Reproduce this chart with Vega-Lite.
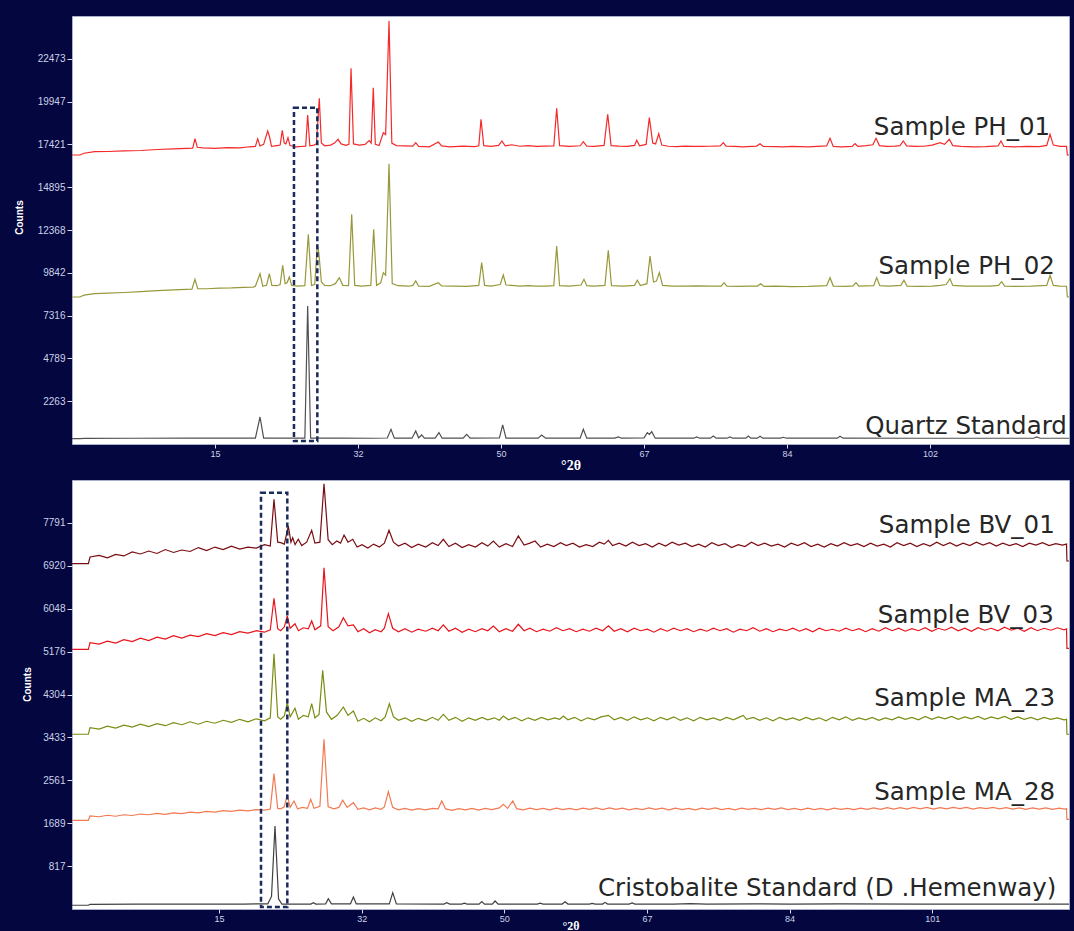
{
  "$schema": "https://vega.github.io/schema/vega-lite/v6.json",
  "background": "#03063f",
  "padding": {"left": 13, "top": 15, "right": 5, "bottom": 0},
  "bounds": "flush",
  "spacing": 36,
  "config": {
    "view": {"fill": "white", "stroke": "#aab0cc", "strokeWidth": 1},
    "axis": {"grid": false, "domain": false, "tickColor": "#d8dcf0", "tickSize": 4, "labelColor": "#cdd2e8", "labelFont": "Liberation Sans", "labelFontSize": 9, "labelPadding": 1, "titleColor": "white", "titleFont": "Liberation Sans", "titleFontWeight": "bold"},
    "text": {"font": "DejaVu Sans", "fontSize": 24.5, "color": "#262626", "align": "center", "baseline": "alphabetic"},
    "line": {"strokeWidth": 1.2, "clip": true}
  },
  "datasets": {
    "ph01": [
      {"x":-2.35,"y":16795},{"x":-1.4,"y":16795},{"x":-0.9,"y":16900},{"x":0.4,"y":16990},{"x":2,"y":17000},{"x":4,"y":17040},{"x":6,"y":17060},{"x":8,"y":17120},{"x":10,"y":17160},{"x":12.3,"y":17200},{"x":12.57,"y":17757},{"x":12.85,"y":17250},{"x":13.5,"y":17210},{"x":15,"y":17190},{"x":16.5,"y":17230},{"x":18,"y":17210},{"x":19.2,"y":17280},{"x":19.9,"y":17300},{"x":20.18,"y":17757},{"x":20.45,"y":17330},{"x":20.9,"y":17420},{"x":21.39,"y":18212},{"x":21.6,"y":17900},{"x":21.85,"y":17300},{"x":22.5,"y":17350},{"x":22.9,"y":17380},{"x":23.16,"y":18253},{"x":23.4,"y":17500},{"x":23.6,"y":17450},{"x":23.85,"y":17816},{"x":24.1,"y":17350},{"x":24.8,"y":17280},{"x":25.5,"y":17300},{"x":26.0,"y":17320},{"x":26.24,"y":19156},{"x":26.5,"y":17340},{"x":27.0,"y":17380},{"x":27.3,"y":17450},{"x":27.65,"y":20142},{"x":27.9,"y":17500},{"x":28.3,"y":17340},{"x":29.0,"y":17380},{"x":29.5,"y":17500},{"x":29.92,"y":17722},{"x":30.3,"y":17450},{"x":30.9,"y":17360},{"x":31.25,"y":17420},{"x":31.5,"y":21912},{"x":31.8,"y":17450},{"x":32.5,"y":17380},{"x":33.2,"y":17420},{"x":33.7,"y":17650},{"x":33.95,"y":17500},{"x":34.2,"y":20767},{"x":34.45,"y":17420},{"x":34.9,"y":17350},{"x":35.42,"y":18111},{"x":35.7,"y":18000},{"x":36.11,"y":24704},{"x":36.45,"y":17500},{"x":37,"y":17350},{"x":38,"y":17330},{"x":39.0,"y":17320},{"x":39.35,"y":17521},{"x":39.7,"y":17300},{"x":41,"y":17280},{"x":42.09,"y":17562},{"x":42.5,"y":17330},{"x":43.5,"y":17280},{"x":45,"y":17320},{"x":46.5,"y":17290},{"x":47.0,"y":17340},{"x":47.27,"y":18902},{"x":47.6,"y":17350},{"x":48.5,"y":17300},{"x":49.4,"y":17360},{"x":49.81,"y":17621},{"x":50.2,"y":17340},{"x":51,"y":17400},{"x":52,"y":17310},{"x":53,"y":17350},{"x":54,"y":17300},{"x":55,"y":17320},{"x":56.1,"y":17330},{"x":56.45,"y":19551},{"x":56.8,"y":17350},{"x":58,"y":17300},{"x":59.3,"y":17340},{"x":59.68,"y":17580},{"x":60.1,"y":17320},{"x":61,"y":17300},{"x":62.2,"y":17360},{"x":62.64,"y":19197},{"x":63.05,"y":17350},{"x":64,"y":17320},{"x":65,"y":17300},{"x":65.9,"y":17360},{"x":66.16,"y":17663},{"x":66.5,"y":17340},{"x":67.3,"y":17420},{"x":67.69,"y":18997},{"x":68.1,"y":17500},{"x":68.45,"y":17450},{"x":68.83,"y":18052},{"x":69.2,"y":17380},{"x":70,"y":17310},{"x":71,"y":17290},{"x":72,"y":17320},{"x":73,"y":17300},{"x":74,"y":17300},{"x":75,"y":17310},{"x":76.3,"y":17330},{"x":76.66,"y":17521},{"x":77,"y":17320},{"x":78,"y":17300},{"x":79,"y":17280},{"x":80.7,"y":17320},{"x":81.12,"y":17462},{"x":81.5,"y":17300},{"x":83,"y":17290},{"x":84,"y":17280},{"x":85,"y":17300},{"x":86,"y":17290},{"x":87,"y":17280},{"x":88,"y":17300},{"x":89.2,"y":17330},{"x":89.61,"y":17781},{"x":90,"y":17300},{"x":91,"y":17280},{"x":92.3,"y":17300},{"x":92.64,"y":17462},{"x":93,"y":17300},{"x":94,"y":17350},{"x":94.8,"y":17400},{"x":95.19,"y":17781},{"x":95.6,"y":17350},{"x":96.5,"y":17300},{"x":97.5,"y":17320},{"x":98.1,"y":17350},{"x":98.5,"y":17621},{"x":98.9,"y":17330},{"x":100,"y":17300},{"x":101,"y":17310},{"x":102,"y":17380},{"x":102.95,"y":17521},{"x":103.5,"y":17420},{"x":104.08,"y":17722},{"x":104.5,"y":17350},{"x":105.5,"y":17300},{"x":107,"y":17280},{"x":108.5,"y":17290},{"x":110,"y":17330},{"x":110.35,"y":17621},{"x":110.7,"y":17300},{"x":112,"y":17280},{"x":113.5,"y":17300},{"x":115,"y":17290},{"x":115.9,"y":17360},{"x":116.3,"y":18017},{"x":116.7,"y":17380},{"x":117.5,"y":17300},{"x":118.3,"y":17300},{"x":118.4,"y":16795},{"x":118.6,"y":16795}
    ],
    "ph02": [
      {"x":-2.35,"y":8414},{"x":-1.4,"y":8414},{"x":-0.9,"y":8520},{"x":0.4,"y":8609},{"x":2,"y":8640},{"x":4,"y":8680},{"x":6,"y":8730},{"x":8,"y":8790},{"x":10,"y":8830},{"x":12.2,"y":8880},{"x":12.57,"y":9459},{"x":12.9,"y":8900},{"x":14,"y":8900},{"x":15.5,"y":8940},{"x":17,"y":8950},{"x":18.5,"y":8980},{"x":19.6,"y":9000},{"x":19.9,"y":9050},{"x":20.46,"y":9790},{"x":20.8,"y":9050},{"x":21.25,"y":9100},{"x":21.59,"y":9790},{"x":21.9,"y":9100},{"x":22.5,"y":9080},{"x":22.9,"y":9150},{"x":23.21,"y":10285},{"x":23.5,"y":9200},{"x":23.75,"y":9250},{"x":24.01,"y":9595},{"x":24.3,"y":9100},{"x":25,"y":9060},{"x":25.9,"y":9080},{"x":26.32,"y":12115},{"x":26.7,"y":9100},{"x":27.1,"y":9150},{"x":27.41,"y":11525},{"x":27.6,"y":11000},{"x":27.9,"y":9300},{"x":28.3,"y":9100},{"x":29,"y":9080},{"x":29.6,"y":9200},{"x":30.08,"y":9553},{"x":30.5,"y":9100},{"x":31.2,"y":9080},{"x":31.58,"y":13295},{"x":31.95,"y":9100},{"x":32.8,"y":9050},{"x":33.5,"y":9080},{"x":33.9,"y":9100},{"x":34.25,"y":12410},{"x":34.6,"y":9100},{"x":35.1,"y":9250},{"x":35.42,"y":9849},{"x":35.7,"y":9700},{"x":36.11,"y":16282},{"x":36.5,"y":9200},{"x":37.2,"y":9080},{"x":38.5,"y":9050},{"x":39.0,"y":9100},{"x":39.35,"y":9359},{"x":39.7,"y":9050},{"x":41,"y":9040},{"x":42.09,"y":9258},{"x":42.5,"y":9070},{"x":44,"y":9050},{"x":45.5,"y":9040},{"x":47.0,"y":9100},{"x":47.35,"y":10439},{"x":47.7,"y":9100},{"x":48.5,"y":9060},{"x":49.6,"y":9150},{"x":49.97,"y":9713},{"x":50.3,"y":9120},{"x":51,"y":9100},{"x":52,"y":9060},{"x":53,"y":9080},{"x":54,"y":9050},{"x":55,"y":9060},{"x":56.1,"y":9080},{"x":56.45,"y":11424},{"x":56.8,"y":9080},{"x":58,"y":9060},{"x":59.4,"y":9120},{"x":59.76,"y":9459},{"x":60.1,"y":9080},{"x":61,"y":9060},{"x":62.3,"y":9100},{"x":62.71,"y":11171},{"x":63.1,"y":9080},{"x":64.5,"y":9060},{"x":65.9,"y":9100},{"x":66.23,"y":9400},{"x":66.6,"y":9090},{"x":67.4,"y":9200},{"x":67.77,"y":10834},{"x":68.2,"y":9300},{"x":68.55,"y":9350},{"x":68.9,"y":9849},{"x":69.3,"y":9100},{"x":70.5,"y":9060},{"x":72,"y":9050},{"x":73.5,"y":9070},{"x":75,"y":9050},{"x":76.4,"y":9060},{"x":76.75,"y":9258},{"x":77.1,"y":9050},{"x":78.5,"y":9040},{"x":80,"y":9060},{"x":80.8,"y":9060},{"x":81.2,"y":9199},{"x":81.6,"y":9040},{"x":83,"y":9050},{"x":85,"y":9030},{"x":87,"y":9040},{"x":89.2,"y":9080},{"x":89.61,"y":9553},{"x":90,"y":9060},{"x":91.5,"y":9040},{"x":92.4,"y":9070},{"x":92.76,"y":9258},{"x":93.1,"y":9050},{"x":94.9,"y":9080},{"x":95.27,"y":9553},{"x":95.65,"y":9080},{"x":96.7,"y":9050},{"x":98.2,"y":9100},{"x":98.58,"y":9400},{"x":98.95,"y":9060},{"x":100.5,"y":9040},{"x":102,"y":9060},{"x":103,"y":9100},{"x":103.7,"y":9150},{"x":104.16,"y":9494},{"x":104.5,"y":9100},{"x":106,"y":9060},{"x":107.5,"y":9050},{"x":109,"y":9060},{"x":110.05,"y":9100},{"x":110.43,"y":9317},{"x":110.8,"y":9060},{"x":112,"y":9040},{"x":114,"y":9060},{"x":115.9,"y":9100},{"x":116.3,"y":9695},{"x":116.7,"y":9100},{"x":117.5,"y":9060},{"x":118.3,"y":9050},{"x":118.4,"y":8414},{"x":118.6,"y":8414}
    ],
    "quartz": [
      {"x":-2.35,"y":50},{"x":-1.4,"y":50},{"x":-0.8,"y":70},{"x":5,"y":75},{"x":12,"y":78},{"x":19.9,"y":80},{"x":20.46,"y":1332},{"x":20.9,"y":80},{"x":25.9,"y":80},{"x":26.24,"y":7883},{"x":26.6,"y":85},{"x":27,"y":80},{"x":30,"y":80},{"x":34,"y":75},{"x":35.9,"y":90},{"x":36.35,"y":606},{"x":36.75,"y":85},{"x":38.9,"y":80},{"x":39.35,"y":506},{"x":39.7,"y":100},{"x":40.07,"y":270},{"x":40.4,"y":80},{"x":41.7,"y":80},{"x":42.17,"y":405},{"x":42.55,"y":80},{"x":45.1,"y":80},{"x":45.53,"y":311},{"x":45.95,"y":80},{"x":49.5,"y":90},{"x":49.9,"y":860},{"x":50.3,"y":85},{"x":54.2,"y":80},{"x":54.63,"y":270},{"x":55.1,"y":80},{"x":59.3,"y":85},{"x":59.68,"y":606},{"x":60.1,"y":80},{"x":63.5,"y":80},{"x":63.92,"y":152},{"x":64.3,"y":80},{"x":67.05,"y":100},{"x":67.44,"y":405},{"x":67.7,"y":300},{"x":67.98,"y":464},{"x":68.4,"y":80},{"x":73.1,"y":80},{"x":73.43,"y":152},{"x":73.8,"y":80},{"x":75.1,"y":80},{"x":75.45,"y":211},{"x":75.8,"y":80},{"x":77.1,"y":80},{"x":77.47,"y":152},{"x":77.8,"y":80},{"x":79.4,"y":80},{"x":79.7,"y":211},{"x":80,"y":80},{"x":80.8,"y":80},{"x":81.12,"y":193},{"x":81.45,"y":80},{"x":83.6,"y":80},{"x":83.94,"y":134},{"x":84.3,"y":78},{"x":90.5,"y":78},{"x":90.82,"y":193},{"x":91.2,"y":78},{"x":100,"y":75},{"x":114.3,"y":75},{"x":114.68,"y":152},{"x":115.1,"y":75},{"x":118.6,"y":75}
    ],
    "boxTop": [{"x":24.58,"x2":27.41,"y":19587,"y2":-85}],
    "labelsTop": [
      {"x":105.62,"y":17976,"t":"Sample PH_01"},
      {"x":106.19,"y":9754,"t":"Sample PH_02"},
      {"x":106.11,"y":310,"t":"Quartz Standard"}
    ],
    "bv01": [
      {"x":-2.78,"y":6962},{"x":-0.8,"y":6962},{"x":-0.6,"y":7098},{"x":0.5,"y":7130},{"x":1.5,"y":7080},{"x":2.5,"y":7150},{"x":3.5,"y":7120},{"x":4.5,"y":7200},{"x":5.5,"y":7160},{"x":6.5,"y":7220},{"x":7.5,"y":7170},{"x":8.5,"y":7250},{"x":9.5,"y":7190},{"x":10.5,"y":7240},{"x":11.5,"y":7210},{"x":12.5,"y":7290},{"x":13.5,"y":7230},{"x":14.5,"y":7300},{"x":15.5,"y":7250},{"x":16.5,"y":7320},{"x":17.5,"y":7260},{"x":18.5,"y":7300},{"x":19.5,"y":7280},{"x":20.5,"y":7350},{"x":21.2,"y":7320},{"x":21.65,"y":8271},{"x":22.1,"y":7400},{"x":22.46,"y":7389},{"x":22.9,"y":7360},{"x":23.38,"y":7728},{"x":23.7,"y":7400},{"x":23.91,"y":7491},{"x":24.2,"y":7350},{"x":24.59,"y":7458},{"x":25,"y":7330},{"x":25.6,"y":7400},{"x":26.21,"y":7641},{"x":26.6,"y":7380},{"x":27.2,"y":7400},{"x":27.7,"y":8588},{"x":28.2,"y":7450},{"x":28.7,"y":7350},{"x":29.24,"y":7423},{"x":29.7,"y":7380},{"x":30.12,"y":7545},{"x":30.6,"y":7400},{"x":31.17,"y":7458},{"x":31.7,"y":7300},{"x":32.3,"y":7350},{"x":33,"y":7280},{"x":33.7,"y":7360},{"x":34.4,"y":7300},{"x":35.0,"y":7380},{"x":35.56,"y":7641},{"x":36.1,"y":7400},{"x":36.7,"y":7320},{"x":37.5,"y":7380},{"x":38.3,"y":7290},{"x":39.1,"y":7360},{"x":40,"y":7300},{"x":40.8,"y":7390},{"x":41.5,"y":7330},{"x":42.13,"y":7458},{"x":42.8,"y":7310},{"x":43.6,"y":7380},{"x":44.4,"y":7290},{"x":45.2,"y":7350},{"x":46,"y":7300},{"x":46.8,"y":7390},{"x":47.5,"y":7320},{"x":48.18,"y":7423},{"x":48.9,"y":7300},{"x":49.7,"y":7370},{"x":50.5,"y":7310},{"x":51.2,"y":7525},{"x":51.9,"y":7340},{"x":52.6,"y":7380},{"x":53.22,"y":7423},{"x":53.9,"y":7300},{"x":54.7,"y":7360},{"x":55.5,"y":7310},{"x":56.3,"y":7390},{"x":57,"y":7330},{"x":57.8,"y":7380},{"x":58.6,"y":7300},{"x":59.4,"y":7350},{"x":60.2,"y":7310},{"x":61,"y":7400},{"x":61.6,"y":7360},{"x":62.09,"y":7438},{"x":62.6,"y":7330},{"x":63.4,"y":7380},{"x":64.2,"y":7320},{"x":65,"y":7400},{"x":65.8,"y":7330},{"x":66.6,"y":7370},{"x":67.4,"y":7300},{"x":68.2,"y":7380},{"x":69,"y":7320},{"x":69.8,"y":7400},{"x":70.6,"y":7340},{"x":71.4,"y":7380},{"x":72.2,"y":7310},{"x":73,"y":7360},{"x":73.8,"y":7300},{"x":74.6,"y":7390},{"x":75.4,"y":7330},{"x":76.2,"y":7370},{"x":77,"y":7290},{"x":77.8,"y":7350},{"x":78.6,"y":7310},{"x":79.4,"y":7400},{"x":80.2,"y":7330},{"x":81,"y":7380},{"x":81.8,"y":7320},{"x":82.6,"y":7360},{"x":83.4,"y":7300},{"x":84.2,"y":7380},{"x":85,"y":7330},{"x":85.8,"y":7390},{"x":86.6,"y":7310},{"x":87.4,"y":7360},{"x":88.2,"y":7300},{"x":89,"y":7370},{"x":89.8,"y":7320},{"x":90.6,"y":7390},{"x":91.4,"y":7330},{"x":92.2,"y":7370},{"x":93,"y":7310},{"x":93.8,"y":7380},{"x":94.6,"y":7320},{"x":95.4,"y":7360},{"x":96.2,"y":7300},{"x":97,"y":7390},{"x":97.8,"y":7330},{"x":98.6,"y":7380},{"x":99.4,"y":7310},{"x":100.2,"y":7370},{"x":101,"y":7320},{"x":101.8,"y":7400},{"x":102.6,"y":7330},{"x":103.4,"y":7390},{"x":104.2,"y":7320},{"x":105,"y":7380},{"x":105.8,"y":7330},{"x":106.6,"y":7400},{"x":107.4,"y":7340},{"x":108.2,"y":7390},{"x":109,"y":7320},{"x":109.8,"y":7380},{"x":110.6,"y":7330},{"x":111.4,"y":7370},{"x":112.2,"y":7310},{"x":113,"y":7380},{"x":113.8,"y":7340},{"x":114.6,"y":7390},{"x":115.4,"y":7330},{"x":116.2,"y":7370},{"x":117,"y":7340},{"x":117.5,"y":7360},{"x":117.55,"y":7017},{"x":117.8,"y":7017}
    ],
    "bv03": [
      {"x":-2.78,"y":5223},{"x":-0.8,"y":5223},{"x":-0.6,"y":5357},{"x":0.5,"y":5330},{"x":1.5,"y":5390},{"x":2.5,"y":5350},{"x":3.5,"y":5420},{"x":4.5,"y":5380},{"x":5.5,"y":5450},{"x":6.5,"y":5400},{"x":7.5,"y":5470},{"x":8.5,"y":5430},{"x":9.5,"y":5500},{"x":10.5,"y":5450},{"x":11.5,"y":5510},{"x":12.5,"y":5480},{"x":13.5,"y":5540},{"x":14.5,"y":5500},{"x":15.5,"y":5560},{"x":16.5,"y":5520},{"x":17.5,"y":5580},{"x":18.5,"y":5550},{"x":19.5,"y":5600},{"x":20.5,"y":5570},{"x":21.2,"y":5620},{"x":21.65,"y":6259},{"x":22.1,"y":5640},{"x":22.46,"y":5600},{"x":22.9,"y":5680},{"x":23.26,"y":5899},{"x":23.6,"y":5650},{"x":24.19,"y":5743},{"x":24.6,"y":5600},{"x":25.2,"y":5660},{"x":25.8,"y":5640},{"x":26.21,"y":5798},{"x":26.6,"y":5620},{"x":27.3,"y":5700},{"x":27.7,"y":6881},{"x":28.2,"y":5680},{"x":28.8,"y":5600},{"x":29.5,"y":5680},{"x":30.04,"y":5865},{"x":30.6,"y":5700},{"x":31.25,"y":5717},{"x":31.8,"y":5580},{"x":32.5,"y":5640},{"x":33.2,"y":5560},{"x":33.9,"y":5620},{"x":34.6,"y":5580},{"x":35.0,"y":5650},{"x":35.48,"y":5946},{"x":36,"y":5650},{"x":36.7,"y":5580},{"x":37.5,"y":5640},{"x":38.3,"y":5570},{"x":39.1,"y":5630},{"x":40,"y":5590},{"x":40.8,"y":5650},{"x":41.5,"y":5600},{"x":42.13,"y":5717},{"x":42.8,"y":5590},{"x":43.6,"y":5650},{"x":44.4,"y":5570},{"x":45.2,"y":5630},{"x":46,"y":5580},{"x":46.8,"y":5640},{"x":47.5,"y":5600},{"x":48.18,"y":5696},{"x":48.9,"y":5580},{"x":49.7,"y":5640},{"x":50.5,"y":5590},{"x":51.2,"y":5731},{"x":51.9,"y":5600},{"x":52.6,"y":5650},{"x":53.4,"y":5580},{"x":54.2,"y":5630},{"x":55,"y":5590},{"x":55.8,"y":5660},{"x":56.6,"y":5600},{"x":57.4,"y":5640},{"x":58.2,"y":5580},{"x":59,"y":5630},{"x":59.8,"y":5590},{"x":60.6,"y":5650},{"x":61.4,"y":5600},{"x":62.09,"y":5700},{"x":62.8,"y":5590},{"x":63.6,"y":5640},{"x":64.4,"y":5580},{"x":65.2,"y":5650},{"x":66,"y":5600},{"x":66.8,"y":5630},{"x":67.6,"y":5570},{"x":68.4,"y":5640},{"x":69.2,"y":5590},{"x":70,"y":5650},{"x":70.8,"y":5600},{"x":71.6,"y":5640},{"x":72.4,"y":5580},{"x":73.2,"y":5630},{"x":74,"y":5590},{"x":74.8,"y":5650},{"x":75.6,"y":5600},{"x":76.4,"y":5640},{"x":77.2,"y":5570},{"x":78,"y":5630},{"x":78.8,"y":5600},{"x":79.6,"y":5660},{"x":80.4,"y":5590},{"x":81.2,"y":5640},{"x":82,"y":5580},{"x":82.8,"y":5630},{"x":83.6,"y":5600},{"x":84.4,"y":5650},{"x":85.2,"y":5590},{"x":86,"y":5640},{"x":86.8,"y":5580},{"x":87.6,"y":5650},{"x":88.4,"y":5600},{"x":89.2,"y":5630},{"x":90,"y":5590},{"x":90.8,"y":5650},{"x":91.6,"y":5600},{"x":92.4,"y":5640},{"x":93.2,"y":5580},{"x":94,"y":5640},{"x":94.8,"y":5590},{"x":95.6,"y":5660},{"x":96.4,"y":5600},{"x":97.2,"y":5650},{"x":98,"y":5590},{"x":98.8,"y":5640},{"x":99.6,"y":5600},{"x":100.4,"y":5660},{"x":101.2,"y":5590},{"x":102,"y":5650},{"x":102.8,"y":5610},{"x":103.6,"y":5670},{"x":104.4,"y":5600},{"x":105.2,"y":5650},{"x":106,"y":5590},{"x":106.8,"y":5660},{"x":107.6,"y":5610},{"x":108.4,"y":5650},{"x":109.2,"y":5600},{"x":110,"y":5670},{"x":110.8,"y":5610},{"x":111.6,"y":5650},{"x":112.4,"y":5590},{"x":113.2,"y":5660},{"x":114,"y":5600},{"x":114.8,"y":5650},{"x":115.6,"y":5610},{"x":116.4,"y":5660},{"x":117.2,"y":5620},{"x":117.5,"y":5640},{"x":117.55,"y":5243},{"x":117.8,"y":5243}
    ],
    "ma23": [
      {"x":-2.78,"y":3496},{"x":-0.8,"y":3496},{"x":-0.6,"y":3630},{"x":0.5,"y":3600},{"x":1.5,"y":3660},{"x":2.5,"y":3620},{"x":3.5,"y":3680},{"x":4.5,"y":3640},{"x":5.5,"y":3700},{"x":6.5,"y":3650},{"x":7.5,"y":3710},{"x":8.5,"y":3670},{"x":9.5,"y":3730},{"x":10.5,"y":3690},{"x":11.5,"y":3750},{"x":12.5,"y":3700},{"x":13.5,"y":3760},{"x":14.5,"y":3720},{"x":15.5,"y":3780},{"x":16.5,"y":3740},{"x":17.5,"y":3800},{"x":18.5,"y":3750},{"x":19.5,"y":3810},{"x":20.5,"y":3770},{"x":21.2,"y":3830},{"x":21.65,"y":5133},{"x":22.1,"y":3850},{"x":22.46,"y":3800},{"x":22.9,"y":3870},{"x":23.26,"y":4138},{"x":23.6,"y":3850},{"x":24.19,"y":4024},{"x":24.6,"y":3800},{"x":25.2,"y":3880},{"x":25.8,"y":3850},{"x":26.21,"y":4117},{"x":26.6,"y":3830},{"x":27.1,"y":3900},{"x":27.54,"y":4796},{"x":28.0,"y":3950},{"x":28.6,"y":3800},{"x":29.3,"y":3880},{"x":30.04,"y":4050},{"x":30.6,"y":3880},{"x":31.25,"y":3969},{"x":31.8,"y":3760},{"x":32.5,"y":3820},{"x":33.2,"y":3750},{"x":33.9,"y":3830},{"x":34.6,"y":3770},{"x":35.1,"y":3850},{"x":35.6,"y":4117},{"x":36.1,"y":3850},{"x":36.7,"y":3780},{"x":37.5,"y":3830},{"x":38.3,"y":3760},{"x":39.1,"y":3820},{"x":40,"y":3770},{"x":40.8,"y":3840},{"x":41.5,"y":3780},{"x":42.13,"y":3902},{"x":42.8,"y":3780},{"x":43.6,"y":3840},{"x":44.4,"y":3760},{"x":45.2,"y":3830},{"x":46,"y":3780},{"x":46.8,"y":3840},{"x":47.5,"y":3790},{"x":48.3,"y":3830},{"x":48.9,"y":3780},{"x":49.39,"y":3867},{"x":50,"y":3790},{"x":50.8,"y":3840},{"x":51.6,"y":3770},{"x":52.4,"y":3830},{"x":53.2,"y":3780},{"x":54,"y":3840},{"x":54.8,"y":3790},{"x":55.6,"y":3830},{"x":56.2,"y":3800},{"x":56.65,"y":3867},{"x":57.2,"y":3790},{"x":58,"y":3840},{"x":58.8,"y":3770},{"x":59.6,"y":3830},{"x":60.4,"y":3790},{"x":61.2,"y":3850},{"x":62.09,"y":3880},{"x":62.8,"y":3790},{"x":63.6,"y":3840},{"x":64.4,"y":3780},{"x":65.2,"y":3850},{"x":66,"y":3790},{"x":66.8,"y":3830},{"x":67.6,"y":3770},{"x":68.4,"y":3840},{"x":69.2,"y":3790},{"x":70,"y":3850},{"x":70.8,"y":3780},{"x":71.6,"y":3830},{"x":72.4,"y":3770},{"x":73.2,"y":3840},{"x":74,"y":3790},{"x":74.8,"y":3830},{"x":75.6,"y":3780},{"x":76.4,"y":3840},{"x":77.2,"y":3790},{"x":78,"y":3850},{"x":78.4,"y":3880},{"x":78.8,"y":3800},{"x":79.6,"y":3840},{"x":80.4,"y":3780},{"x":81.2,"y":3830},{"x":82,"y":3770},{"x":82.8,"y":3840},{"x":83.6,"y":3790},{"x":84.4,"y":3830},{"x":85.2,"y":3780},{"x":86,"y":3840},{"x":86.8,"y":3790},{"x":87.6,"y":3830},{"x":88.4,"y":3770},{"x":89.2,"y":3840},{"x":90,"y":3790},{"x":90.8,"y":3850},{"x":91.6,"y":3780},{"x":92.4,"y":3830},{"x":93.2,"y":3790},{"x":94,"y":3840},{"x":94.8,"y":3780},{"x":95.6,"y":3830},{"x":96.4,"y":3790},{"x":97.2,"y":3850},{"x":98,"y":3800},{"x":98.8,"y":3840},{"x":99.6,"y":3790},{"x":100.4,"y":3860},{"x":101.2,"y":3800},{"x":102,"y":3850},{"x":102.8,"y":3810},{"x":103.6,"y":3860},{"x":104.4,"y":3800},{"x":105.2,"y":3850},{"x":106,"y":3810},{"x":106.8,"y":3860},{"x":107.6,"y":3800},{"x":108.4,"y":3850},{"x":109.2,"y":3810},{"x":110,"y":3860},{"x":110.8,"y":3800},{"x":111.6,"y":3850},{"x":112.4,"y":3800},{"x":113.2,"y":3840},{"x":114,"y":3790},{"x":114.8,"y":3840},{"x":115.6,"y":3800},{"x":116.4,"y":3830},{"x":117.2,"y":3790},{"x":117.5,"y":3800},{"x":117.55,"y":3496},{"x":117.8,"y":3496}
    ],
    "ma28": [
      {"x":-2.78,"y":1748},{"x":-0.8,"y":1748},{"x":-0.6,"y":1835},{"x":0.5,"y":1820},{"x":1.5,"y":1850},{"x":2.5,"y":1830},{"x":3.5,"y":1860},{"x":4.5,"y":1845},{"x":5.5,"y":1875},{"x":6.5,"y":1860},{"x":7.5,"y":1890},{"x":8.5,"y":1870},{"x":9.5,"y":1900},{"x":10.5,"y":1885},{"x":11.5,"y":1915},{"x":12.5,"y":1900},{"x":13.5,"y":1930},{"x":14.5,"y":1915},{"x":15.5,"y":1945},{"x":16.5,"y":1930},{"x":17.5,"y":1955},{"x":18.5,"y":1940},{"x":19.5,"y":1965},{"x":20.5,"y":1955},{"x":21.2,"y":1975},{"x":21.65,"y":2695},{"x":22.1,"y":1990},{"x":22.46,"y":1980},{"x":22.9,"y":2020},{"x":23.26,"y":2276},{"x":23.6,"y":2010},{"x":24.07,"y":2140},{"x":24.5,"y":1980},{"x":25.1,"y":2010},{"x":25.7,"y":1990},{"x":26.09,"y":2175},{"x":26.5,"y":1990},{"x":27.2,"y":2030},{"x":27.7,"y":3394},{"x":28.2,"y":2020},{"x":28.9,"y":1980},{"x":29.5,"y":2010},{"x":29.96,"y":2154},{"x":30.5,"y":2010},{"x":31.25,"y":2106},{"x":31.8,"y":1970},{"x":32.5,"y":2000},{"x":33.2,"y":1960},{"x":33.9,"y":2000},{"x":34.6,"y":1970},{"x":35.0,"y":2020},{"x":35.48,"y":2329},{"x":36,"y":2010},{"x":36.7,"y":1960},{"x":37.5,"y":1990},{"x":38.3,"y":1955},{"x":39.1,"y":1985},{"x":40,"y":1960},{"x":40.8,"y":1990},{"x":41.5,"y":1980},{"x":41.94,"y":2140},{"x":42.4,"y":1980},{"x":43.2,"y":1950},{"x":44,"y":1985},{"x":44.8,"y":1960},{"x":45.6,"y":1990},{"x":46.4,"y":1955},{"x":47.2,"y":1990},{"x":48,"y":1965},{"x":48.9,"y":2000},{"x":49.39,"y":2073},{"x":49.9,"y":1990},{"x":50.53,"y":2140},{"x":51,"y":1985},{"x":51.8,"y":1960},{"x":52.6,"y":1995},{"x":53.4,"y":1965},{"x":54.2,"y":1990},{"x":55,"y":1960},{"x":55.8,"y":1995},{"x":56.6,"y":1965},{"x":57.4,"y":1990},{"x":58.2,"y":1960},{"x":59,"y":1995},{"x":59.8,"y":1970},{"x":60.6,"y":2000},{"x":61.4,"y":1965},{"x":62.2,"y":2000},{"x":63,"y":1970},{"x":63.8,"y":1995},{"x":64.6,"y":1960},{"x":65.4,"y":1990},{"x":66.2,"y":1965},{"x":67,"y":2000},{"x":67.8,"y":1970},{"x":68.6,"y":1995},{"x":69.4,"y":1960},{"x":70.2,"y":1995},{"x":71,"y":1965},{"x":71.8,"y":1990},{"x":72.6,"y":1960},{"x":73.4,"y":1995},{"x":74.2,"y":1970},{"x":75,"y":2000},{"x":75.8,"y":1965},{"x":76.6,"y":1990},{"x":77.4,"y":1960},{"x":78.2,"y":1995},{"x":79,"y":1970},{"x":79.8,"y":1990},{"x":80.6,"y":1965},{"x":81.4,"y":1995},{"x":82.2,"y":1970},{"x":83,"y":2000},{"x":83.8,"y":1965},{"x":84.6,"y":1990},{"x":85.4,"y":1960},{"x":86.2,"y":1995},{"x":87,"y":1965},{"x":87.8,"y":1990},{"x":88.6,"y":1960},{"x":89.4,"y":1995},{"x":90.2,"y":1970},{"x":91,"y":1990},{"x":91.8,"y":1965},{"x":92.6,"y":1995},{"x":93.4,"y":1970},{"x":94.2,"y":2000},{"x":95,"y":1970},{"x":95.8,"y":2005},{"x":96.6,"y":1975},{"x":97.4,"y":2005},{"x":98.2,"y":1975},{"x":99,"y":2010},{"x":99.8,"y":1980},{"x":100.6,"y":2010},{"x":101.4,"y":1975},{"x":102.2,"y":2005},{"x":103,"y":1980},{"x":103.8,"y":2010},{"x":104.6,"y":1985},{"x":105.4,"y":2010},{"x":106.2,"y":1975},{"x":107,"y":2005},{"x":107.8,"y":1985},{"x":108.6,"y":2010},{"x":109.4,"y":1980},{"x":110.2,"y":2005},{"x":111,"y":1975},{"x":111.8,"y":2000},{"x":112.6,"y":1970},{"x":113.4,"y":2000},{"x":114.2,"y":1975},{"x":115,"y":2000},{"x":115.8,"y":1970},{"x":116.6,"y":1995},{"x":117.3,"y":1975},{"x":117.5,"y":1985},{"x":117.55,"y":1768},{"x":117.8,"y":1768}
    ],
    "crist": [
      {"x":-2.78,"y":21},{"x":-0.8,"y":21},{"x":-0.6,"y":41},{"x":5,"y":45},{"x":12,"y":45},{"x":18,"y":45},{"x":20.9,"y":50},{"x":21.35,"y":200},{"x":21.77,"y":1632},{"x":22.2,"y":150},{"x":22.6,"y":45},{"x":26.1,"y":45},{"x":26.41,"y":74},{"x":26.7,"y":45},{"x":27.9,"y":50},{"x":28.22,"y":155},{"x":28.6,"y":50},{"x":30.9,"y":50},{"x":31.25,"y":190},{"x":31.6,"y":50},{"x":35.6,"y":50},{"x":36.01,"y":277},{"x":36.45,"y":50},{"x":42.2,"y":45},{"x":42.54,"y":74},{"x":42.9,"y":45},{"x":44.35,"y":45},{"x":44.67,"y":62},{"x":45,"y":45},{"x":46.45,"y":45},{"x":46.78,"y":94},{"x":47.1,"y":45},{"x":48.05,"y":45},{"x":48.39,"y":108},{"x":48.75,"y":45},{"x":53.5,"y":45},{"x":53.83,"y":62},{"x":54.2,"y":45},{"x":56.5,"y":45},{"x":56.85,"y":94},{"x":57.2,"y":45},{"x":59.8,"y":45},{"x":60.12,"y":60},{"x":60.5,"y":45},{"x":61.4,"y":45},{"x":61.69,"y":80},{"x":62,"y":45},{"x":64.6,"y":45},{"x":64.96,"y":70},{"x":65.3,"y":45},{"x":70,"y":45},{"x":72,"y":55},{"x":74,"y":45},{"x":80,"y":50},{"x":84,"y":45},{"x":90,"y":50},{"x":100,"y":45},{"x":110,"y":45},{"x":117.8,"y":45}
    ],
    "boxBottom": [{"x":20.08,"x2":23.26,"y":8405,"y2":-14}],
    "labelsBottom": [
      {"x":105.44,"y":7580,"t":"Sample BV_01"},
      {"x":105.32,"y":5763,"t":"Sample BV_03"},
      {"x":105.18,"y":4071,"t":"Sample MA_23"},
      {"x":105.18,"y":2155,"t":"Sample MA_28"},
      {"x":88.55,"y":210,"t":"Cristobalite Standard (D .Hemenway)"}
    ]
  },
  "vconcat": [
    {
      "width": 997,
      "height": 428,
      "encoding": {
        "x": {"field": "x", "type": "quantitative", "scale": {"domain": [-2.35, 118.6], "nice": false, "zero": false},
              "axis": {"values": [15, 32.35, 49.7, 67.05, 84.4, 101.75], "labelExpr": "'' + round(datum.value)", "title": "°2θ", "titleFont": "Liberation Serif", "titleFontSize": 14, "titlePadding": 0}},
        "y": {"field": "y", "type": "quantitative", "scale": {"domain": [-263, 24999], "nice": false, "zero": false},
              "axis": {"values": [2263, 4789, 7316, 9842, 12368, 14895, 17421, 19947, 22473], "format": "d", "tickSize": 5, "labelPadding": 2, "labelFontSize": 10, "title": "Counts", "titleFontSize": 10, "titleX": -53, "titleY": 201, "titleBaseline": "middle", "titleAlign": "center"}}
      },
      "layer": [
        {"data": {"name": "quartz"}, "mark": {"type": "line", "color": "#505050"}},
        {"data": {"name": "ph02"}, "mark": {"type": "line", "color": "#98983a"}},
        {"data": {"name": "ph01"}, "mark": {"type": "line", "color": "#f42a2a"}},
        {"data": {"name": "boxTop"}, "mark": {"type": "rect", "filled": false, "stroke": "#1b2a5c", "strokeWidth": 2.5, "strokeDash": [5, 3]},
         "encoding": {"x2": {"field": "x2"}, "y2": {"field": "y2"}}},
        {"data": {"name": "labelsTop"}, "mark": {"type": "text"}, "encoding": {"text": {"field": "t"}}}
      ]
    },
    {
      "width": 997,
      "height": 429,
      "encoding": {
        "x": {"field": "x", "type": "quantitative", "scale": {"domain": [-2.78, 117.8], "nice": false, "zero": false},
              "axis": {"values": [15, 32.25, 49.5, 66.75, 84, 101.25], "labelExpr": "'' + round(datum.value)", "title": "°2θ", "titleFont": "Liberation Serif", "titleFontSize": 12, "titleY": 20, "titleBaseline": "alphabetic"}},
        "y": {"field": "y", "type": "quantitative", "scale": {"domain": [-55, 8663], "nice": false, "zero": false},
              "axis": {"values": [817, 1689, 2561, 3433, 4304, 5176, 6048, 6920, 7791], "format": "d", "tickSize": 5, "labelPadding": 2, "labelFontSize": 10, "title": "Counts", "titleFontSize": 10, "titleX": -45, "titleY": 204, "titleBaseline": "middle", "titleAlign": "center"}}
      },
      "layer": [
        {"data": {"name": "crist"}, "mark": {"type": "line", "color": "#404040"}},
        {"data": {"name": "ma28"}, "mark": {"type": "line", "color": "#f27a52"}},
        {"data": {"name": "ma23"}, "mark": {"type": "line", "color": "#7d8c14"}},
        {"data": {"name": "bv03"}, "mark": {"type": "line", "color": "#e8141c"}},
        {"data": {"name": "bv01"}, "mark": {"type": "line", "color": "#7a0c12"}},
        {"data": {"name": "boxBottom"}, "mark": {"type": "rect", "filled": false, "stroke": "#1b2a5c", "strokeWidth": 2.5, "strokeDash": [5, 3]},
         "encoding": {"x2": {"field": "x2"}, "y2": {"field": "y2"}}},
        {"data": {"name": "labelsBottom"}, "mark": {"type": "text"}, "encoding": {"text": {"field": "t"}}}
      ]
    }
  ]
}
